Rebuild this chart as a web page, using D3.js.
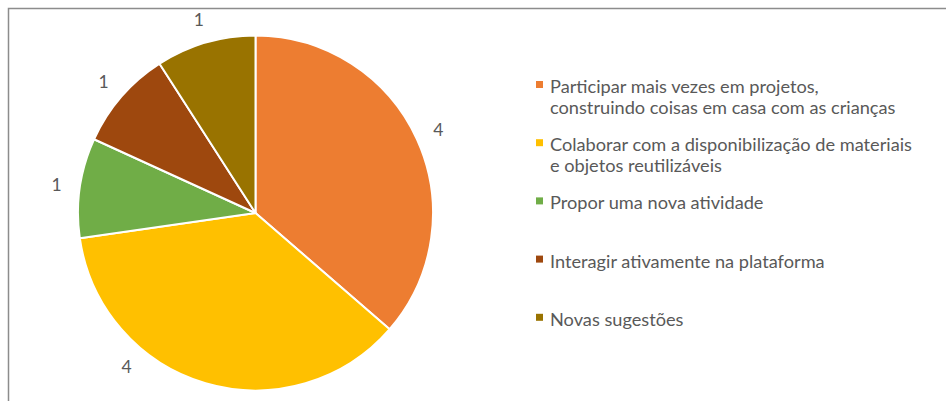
<!DOCTYPE html>
<html><head><meta charset="utf-8">
<script src="https://cdn.jsdelivr.net/npm/d3@7"></script>
<style>html,body{margin:0;padding:0;background:#fff;}svg{display:block;}</style>
</head><body>
<svg id="chart" width="946" height="401"></svg>
<script>
const categories = [
  "Participar mais vezes em projetos, construindo coisas em casa com as crianças",
  "Colaborar com a disponibilização de materiais e objetos reutilizáveis",
  "Propor uma nova atividade",
  "Interagir ativamente na plataforma",
  "Novas sugestões"
];
const legendLines = [
  ["Participar mais vezes em projetos,", "construindo coisas em casa com as crianças"],
  ["Colaborar com a disponibilização de materiais", "e objetos reutilizáveis"],
  ["Propor uma nova atividade"],
  ["Interagir ativamente na plataforma"],
  ["Novas sugestões"]
];
const values = [4, 4, 1, 1, 1];
const colors = ["#ED7D31", "#FFC000", "#70AD47", "#9E480E", "#997300"];
const labelAngleShift = [0, 23.5, 0, 0, 0]; // degrees, label nudge

const svg = d3.select("#chart");
const W = 946, H = 401;
const cx = 255.5, cy = 213, R = 177.5, labelR = 201;
const font = "Lato, 'Open Sans', sans-serif";
const textColor = "#595959";

// frame
svg.append("path")
  .attr("d", `M8.5,${H+2} V8.5 H${W+2}`)
  .attr("fill", "none").attr("stroke", "#8c8c8c").attr("stroke-width", 1.5);

const pie = d3.pie().sort(null).value(d => d)(values);
const arc = d3.arc().innerRadius(0).outerRadius(R);
const g = svg.append("g").attr("transform", `translate(${cx},${cy})`);

g.selectAll("path.slice").data(pie).enter().append("path")
  .attr("class", "slice")
  .attr("d", arc)
  .attr("fill", (d, i) => colors[i])
  .attr("stroke", "#fff").attr("stroke-width", 2).attr("stroke-linejoin", "round");

g.selectAll("text.lbl").data(pie).enter().append("text")
  .attr("class", "lbl")
  .each(function(d, i) {
    const a = (d.startAngle + d.endAngle) / 2 + labelAngleShift[i] * Math.PI / 180;
    d3.select(this)
      .attr("x", labelR * Math.sin(a))
      .attr("y", -labelR * Math.cos(a))
      .attr("dy", "0.35em");
  })
  .attr("text-anchor", "middle")
  .attr("font-family", font).attr("font-size", 17.5)
  .attr("fill", textColor)
  .text(d => d.data);

// legend
const legX = 536, textX = 550, firstBase = 93, slot = 58.2, lineH = 20.5;
const leg = svg.append("g");
legendLines.forEach((lines, i) => {
  const base = firstBase + i * slot;
  leg.append("rect")
    .attr("x", legX).attr("y", base - 12).attr("width", 7).attr("height", 7)
    .attr("fill", colors[i]);
  const t = leg.append("text")
    .attr("font-family", font).attr("font-size", 18.2)
    .attr("fill", textColor);
  lines.forEach((ln, j) => {
    t.append("tspan").attr("x", textX).attr("y", base + j * lineH).text(ln);
  });
});
</script>
</body></html>
